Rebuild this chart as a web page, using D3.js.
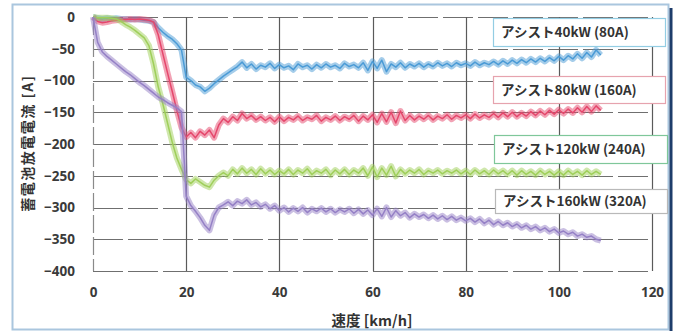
<!DOCTYPE html>
<html>
<head>
<meta charset="utf-8">
<script src="https://cdn.jsdelivr.net/npm/d3@7"></script>
<style>
  body { margin: 0; background: #fff; }
  svg text { font-family: "Noto Sans CJK JP", "Noto Sans", sans-serif; }
</style>
</head>
<body>
<div id="chart"></div>
<script>
// speed samples [km/h]
const speed = [
  0, 1, 2, 3, 4, 5, 6, 7, 8, 9,
  10, 11, 12, 13, 14, 15, 16, 17, 18, 19,
  20, 21, 22, 23, 24, 25, 26, 27, 28, 29,
  30, 31, 32, 33, 34, 35, 36, 37, 38, 39,
  40, 41, 42, 43, 44, 45, 46, 47, 48, 49,
  50, 51, 52, 53, 54, 55, 56, 57, 58, 59,
  60, 61, 62, 63, 64, 65, 66, 67, 68, 69,
  70, 71, 72, 73, 74, 75, 76, 77, 78, 79,
  80, 81, 82, 83, 84, 85, 86, 87, 88, 89,
  90, 91, 92, 93, 94, 95, 96, 97, 98, 99,
  100, 101, 102, 103, 104, 105, 106, 107, 108, 109
];

// battery discharge current [A]
const assist40 = [
  0, -2, -3, -2, -3, -2, -3, -3, -4, -3,
  -4, -5, -6, -8, -17, -24, -30, -35, -42, -52,
  -95, -100, -107, -110, -117, -112, -105, -99, -93, -88,
  -83, -78, -71, -80, -74, -82, -76, -79, -73, -81,
  -75, -80, -77, -83, -74, -79, -76, -82, -75, -80,
  -74, -79, -76, -81, -73, -78, -75, -80, -72, -84,
  -70, -81, -68, -86, -74, -79, -72, -80, -74, -78,
  -73, -79, -74, -78, -72, -77, -73, -78, -72, -76,
  -73, -77, -71, -76, -72, -75, -70, -75, -69, -74,
  -68, -73, -67, -72, -66, -71, -65, -70, -64, -69,
  -62, -68, -61, -66, -58, -65, -56, -63, -52, -60
];
const assist80 = [
  0, -7, -9, -8, -6, -5, -4, -4, -3, -4,
  -3, -4, -5, -8, -28, -58, -88, -117, -147, -174,
  -189, -182, -190, -180, -186, -178, -190, -170, -160, -166,
  -157, -163, -152, -160, -155, -162, -157, -163, -158, -165,
  -157, -164, -158, -162, -156, -163, -158, -161, -155, -164,
  -158, -162, -156, -163, -157, -161, -155, -164, -156, -162,
  -154, -166, -152, -165, -150, -167, -148, -163, -155, -162,
  -156, -161, -155, -162, -156, -160, -154, -161, -155, -159,
  -154, -160, -153, -159, -154, -158, -152, -158, -151, -157,
  -150, -157, -151, -156, -149, -155, -148, -154, -147, -153,
  -146, -152, -145, -151, -143, -150, -141, -149, -140, -147
];
const assist120 = [
  0, -1, -1, -1, -2, -3, -7, -12, -16, -21,
  -27, -33, -45, -74, -110, -137, -167, -197, -222, -240,
  -256, -262, -255, -260, -265, -268, -257, -250, -245, -250,
  -240, -247, -238, -246, -240, -248, -239, -247, -241, -248,
  -242, -247, -240, -248, -241, -246, -239, -248, -242, -246,
  -240, -249, -241, -247, -240, -248, -241, -246, -238, -250,
  -236, -252, -238, -249, -235, -251, -240, -247, -241, -246,
  -240, -248, -242, -246, -241, -247, -242, -246, -241, -247,
  -242, -248, -241, -247, -242, -248, -241, -247, -242, -248,
  -242, -249, -242, -248, -243, -249, -242, -248, -243, -249,
  -243, -249, -242, -248, -243, -249, -242, -248, -243, -248
];
const assist160 = [
  0, -40, -55, -62, -68, -74, -80, -86, -91, -97,
  -103, -108, -114, -120, -126, -130, -135, -139, -143, -149,
  -282, -297, -306, -316, -328, -336, -312, -300, -296, -291,
  -297, -290, -294, -288, -296, -292, -299, -295, -302, -297,
  -305, -300, -307, -301, -306, -300, -308, -302, -306, -301,
  -307, -302, -308, -303, -307, -302, -309, -303, -310, -304,
  -312, -302, -314, -300, -315, -305, -313, -308, -316, -310,
  -315, -311, -317, -312, -318, -313, -319, -314, -320, -316,
  -321, -317, -323, -318, -325, -320, -327, -322, -328, -324,
  -330, -326, -332, -328, -334, -330, -336, -332, -338, -334,
  -340, -337, -342, -339, -345, -342, -347, -345, -350, -352
];

const seriesNames = ["アシスト40kW (80A)", "アシスト80kW (160A)", "アシスト120kW (240A)", "アシスト160kW (320A)"];
const seriesValues = [assist40, assist80, assist120, assist160];
const seriesColors = ["#4b9bd6", "#e5476c", "#9fcf5a", "#9580c6"];
const boxColors = ["#93cde3", "#e6a3ae", "#7fc79a", "#b9b9b9"];

const xTicks = [0, 20, 40, 60, 80, 100, 120];
const yTicks = [0, -50, -100, -150, -200, -250, -300, -350, -400];

const width = 680, height = 331;

const svg = d3.select("#chart").append("svg")
    .attr("width", width)
    .attr("height", height);

// frame
svg.append("rect")
    .attr("x", 12.5).attr("y", 4.5)
    .attr("width", 656).attr("height", 325)
    .attr("fill", "#fff")
    .attr("stroke", "#aac6de")
    .attr("stroke-width", 2);
svg.append("line")
    .attr("x1", 671).attr("x2", 671)
    .attr("y1", 8).attr("y2", 331)
    .attr("stroke", "#1e3d6b")
    .attr("stroke-width", 3);

const x = d3.scaleLinear().domain([0, 120]).range([93, 652]);
const y = d3.scaleLinear().domain([-400, 0]).range([271, 17]);

// grid
svg.append("g").selectAll("line")
    .data(yTicks)
    .join("line")
    .attr("x1", x(0)).attr("x2", x(120))
    .attr("y1", d => Math.round(y(d)) + 0.5)
    .attr("y2", d => Math.round(y(d)) + 0.5)
    .attr("stroke", "#6f6f6f")
    .attr("stroke-width", 1.2)
    .attr("stroke-dasharray", "30,5");

svg.append("g").selectAll("line")
    .data(xTicks)
    .join("line")
    .attr("x1", d => Math.round(x(d)) + 0.5)
    .attr("x2", d => Math.round(x(d)) + 0.5)
    .attr("y1", y(0)).attr("y2", y(-400))
    .attr("stroke", d => d === 0 ? "#8a8a8a" : "#5a5a5a")
    .attr("stroke-width", 1.2)
    .attr("stroke-dasharray", d => d === 0 ? "18,4" : null);

// axes labels (no axis line, just text)
const xAxis = svg.append("g")
    .attr("transform", "translate(0,287)")
    .call(d3.axisBottom(x).tickValues(xTicks).tickSize(0).tickPadding(0));
const yAxis = svg.append("g")
    .attr("transform", "translate(75,0)")
    .call(d3.axisLeft(y).tickValues(yTicks).tickSize(0).tickPadding(0));
[xAxis, yAxis].forEach(a => {
    a.select(".domain").remove();
    a.selectAll("text")
        .attr("fill", "#3a3a3a")
        .attr("font-size", 13.5)
        .attr("font-weight", "bold")
        .style("font-family", "'Noto Sans', sans-serif");
});

svg.append("text")
    .attr("x", 372).attr("y", 326)
    .attr("text-anchor", "middle")
    .attr("font-size", 14.5)
    .attr("font-weight", "bold")
    .attr("fill", "#333")
    .text("速度 [km/h]");

svg.append("text")
    .attr("transform", "translate(33,143) rotate(-90)")
    .attr("text-anchor", "middle")
    .attr("font-size", 14)
    .attr("letter-spacing", 1.5)
    .attr("font-weight", "bold")
    .attr("fill", "#333")
    .text("蓄電池放電電流 [A]");

// series: soft wide band + thin core line
const line = d3.line()
    .x((d, i) => x(speed[i]))
    .y(d => y(d));

seriesValues.forEach((vals, k) => {
    svg.append("path")
        .datum(vals)
        .attr("d", line)
        .attr("fill", "none")
        .attr("stroke", seriesColors[k])
        .attr("stroke-opacity", 0.5)
        .attr("stroke-width", 6)
        .attr("stroke-linejoin", "round");
    svg.append("path")
        .datum(vals)
        .attr("d", line)
        .attr("fill", "none")
        .attr("stroke", seriesColors[k])
        .attr("stroke-width", 1.5)
        .attr("stroke-linejoin", "round");
});

// legend boxes
const boxes = [
    {x: 493, y: 18, w: 172, h: 28},
    {x: 493, y: 76, w: 172, h: 27},
    {x: 494, y: 135, w: 173, h: 28},
    {x: 495, y: 189, w: 172, h: 24}
];
boxes.forEach((b, k) => {
    svg.append("rect")
        .attr("x", b.x + 0.5).attr("y", b.y + 0.5)
        .attr("width", b.w).attr("height", b.h)
        .attr("fill", "#fff")
        .attr("stroke", boxColors[k])
        .attr("stroke-width", 1.2);
    svg.append("text")
        .attr("x", b.x + 8).attr("y", b.y + b.h / 2 + 5)
        .attr("font-size", 13.5)
        .attr("font-weight", "bold")
        .attr("fill", "#333")
        .text(seriesNames[k]);
});
</script>
</body>
</html>
